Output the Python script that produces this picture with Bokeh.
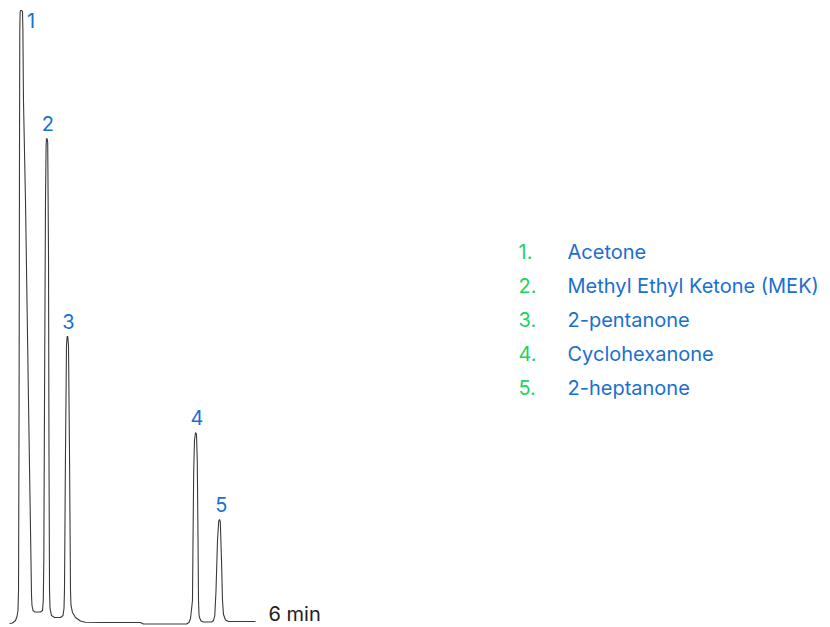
from bokeh.plotting import figure
from bokeh.models import Range1d, ColumnDataSource
from bokeh.core.properties import value
from bokeh.embed import file_html
from bokeh.resources import INLINE

# ---- data (time in min, signal in % of tallest peak) ----
trace_time = [0.000, 0.073, 0.146, 0.183, 0.207, 0.220, 0.234, 0.244, 0.251, 0.259,
              0.268, 0.293, 0.317, 0.327, 0.341, 0.390, 0.463, 0.524, 0.537, 0.549,
              0.573, 0.610, 0.756, 0.805, 0.824, 0.837, 0.854, 0.878, 0.893, 0.902,
              0.917, 0.932, 0.951, 0.963, 0.976, 0.988, 1.024, 1.098, 1.244, 1.305,
              1.329, 1.341, 1.366, 1.390, 1.405, 1.422, 1.439, 1.463, 1.488, 1.500,
              1.537, 1.610, 1.732, 1.854, 2.220, 3.195, 3.268, 4.317, 4.378, 4.415,
              4.463, 4.476, 4.493, 4.512, 4.537, 4.561, 4.580, 4.598, 4.610, 4.622,
              4.634, 4.671, 4.732, 4.927, 4.976, 5.007, 5.037, 5.073, 5.102, 5.122,
              5.141, 5.171, 5.195, 5.220, 5.268, 5.341, 5.512, 6.000]
trace_signal = [-0.16, -0.08, 0.33, 0.98, 1.96, 5.23, 36.27, 77.12, 96.73, 99.67,
                100.0, 100.0, 99.84, 96.73, 85.29, 68.95, 36.27, 10.13, 4.41, 2.78,
                1.96, 1.72, 1.72, 1.96, 3.59, 10.13, 36.27, 68.95, 77.94, 79.00,
                79.08, 78.43, 60.78, 28.10, 5.23, 2.29, 1.14, 0.82, 0.82, 1.14,
                2.29, 5.23, 28.10, 45.26, 46.73, 46.73, 45.26, 28.10, 5.23, 2.78,
                1.63, 0.82, 0.25, 0.03, 0.00, 0.00, -0.25, -0.25, 0.00, 0.65,
                3.59, 13.40, 24.84, 29.74, 31.05, 30.72, 26.47, 13.40, 3.59, 1.31,
                0.82, 0.25, 0.08, 0.08, 0.33, 1.14, 5.23, 13.40, 16.50, 16.83,
                16.50, 10.13, 3.59, 1.31, 0.41, 0.16, 0.16, 0.16]

peak_numbers = ["1", "2", "3", "4", "5"]
peak_times = [0.28, 0.91, 1.41, 4.55, 5.12]
peak_heights = [100.0, 79.1, 46.8, 31.0, 16.8]

compound_numbers = ["1.", "2.", "3.", "4.", "5."]
compound_names = ["Acetone", "Methyl Ethyl Ketone (MEK)", "2-pentanone",
                  "Cyclohexanone", "2-heptanone"]
run_end_label = "6 min"

# ---- layout / style ----
W, H = 830, 627
T0_PX, BASE_PX = 9.0, 622.0          # where t=0 and signal=0 sit on the page
PX_PER_MIN = 41.0
PX_PER_UNIT = 6.12
x_start = -T0_PX / PX_PER_MIN
y_start = -(H - BASE_PX) / PX_PER_UNIT
BLUE = "#1a6fcf"
GREEN = "#22d063"
FONT = value("Inter")
FS = "20px"
SHIFT = -7                            # baseline correction for text glyphs

p = figure(width=W, height=H, output_backend="svg", toolbar_location=None,
           x_range=Range1d(x_start, x_start + W / PX_PER_MIN),
           y_range=Range1d(y_start, y_start + H / PX_PER_UNIT),
           min_border=0, background_fill_color="white", border_fill_color="white")
p.axis.visible = False
p.grid.visible = False
p.outline_line_color = None

p.line(trace_time, trace_signal, line_color="#3a3a3a", line_width=1.1)

# peak numbers
label_dx = [10, 1, 1, 1, 2]
label_dy = [17 + SHIFT, -8 + SHIFT, -8 + SHIFT, -8 + SHIFT, -8 + SHIFT]
src = ColumnDataSource(dict(x=peak_times, y=peak_heights, t=peak_numbers,
                            dx=label_dx, dy=label_dy))
p.text(x="x", y="y", text="t", source=src, x_offset="dx", y_offset="dy",
       text_font=FONT, text_font_size=FS, text_color=BLUE,
       text_align="center", text_baseline="alphabetic")

# end-of-run label
p.text(x=[trace_time[-1]], y=[trace_signal[-1]], text=[run_end_label],
       x_offset=13, y_offset=-1 + SHIFT, text_font=FONT, text_font_size=FS,
       text_color="#222222", text_align="left", text_baseline="alphabetic")

# compound key
num_px, name_px = 518, 567
row0_py, row_gap_px = 258, 34
num_x = x_start + num_px / PX_PER_MIN
name_x = x_start + name_px / PX_PER_MIN
rows_y = [(BASE_PX - (row0_py + i * row_gap_px)) / PX_PER_UNIT
          for i in range(len(compound_names))]
p.text(x=[num_x] * len(rows_y), y=rows_y, text=compound_numbers, y_offset=SHIFT,
       text_font=FONT, text_font_size=FS, text_color=GREEN,
       text_align="left", text_baseline="alphabetic")
p.text(x=[name_x] * len(rows_y), y=rows_y, text=compound_names, y_offset=SHIFT,
       text_font=FONT, text_font_size=FS, text_color=BLUE,
       text_align="left", text_baseline="alphabetic")

open("out.html", "w").write(file_html(p, INLINE))
